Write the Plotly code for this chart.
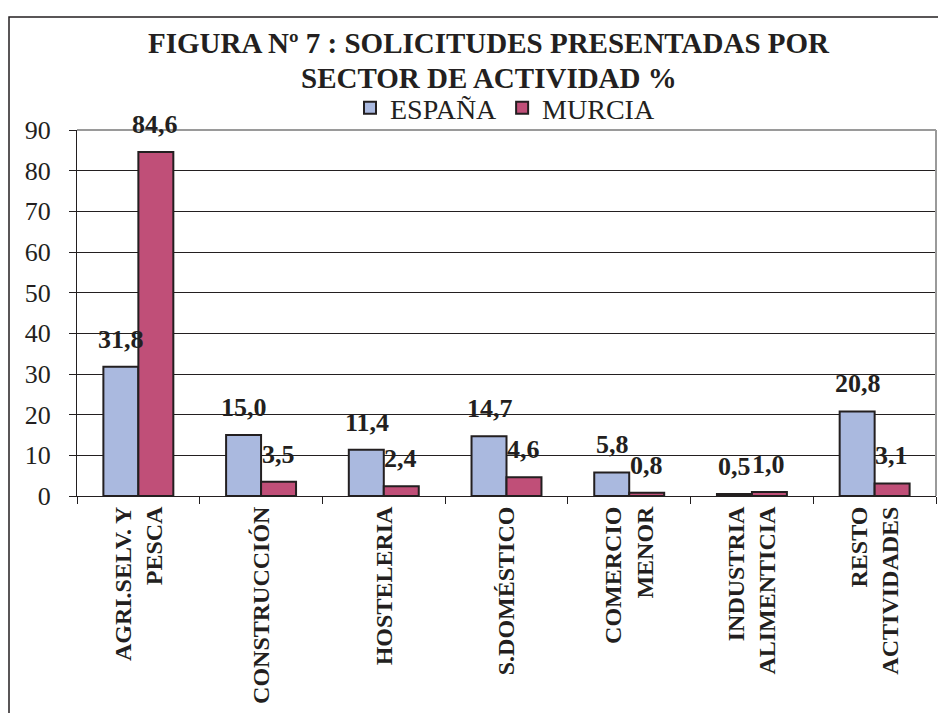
import plotly.graph_objects as go

categories = ["AGRI.SELV. Y<br>PESCA", "CONSTRUCCIÓN", "HOSTELERIA", "S.DOMÉSTICO",
              "COMERCIO<br>MENOR", "INDUSTRIA<br>ALIMENTICIA", "RESTO<br>ACTIVIDADES"]
espana = [31.8, 15.0, 11.4, 14.7, 5.8, 0.5, 20.8]
murcia = [84.6, 3.5, 2.4, 4.6, 0.8, 1.0, 3.1]
y_ticks = [0, 10, 20, 30, 40, 50, 60, 70, 80, 90]
title_lines = ["FIGURA Nº 7 : SOLICITUDES PRESENTADAS POR", "SECTOR DE ACTIVIDAD %"]

FONT = "Liberation Serif, Times New Roman, serif"
W, H = 946, 713
OFF = 8  # page body margin
L, T = 77 - OFF, 130 - OFF
pw, ph = 859, 366
R = W - L - pw
B = H - T - ph

fig = go.Figure()
fig.add_trace(go.Bar(name="ESPAÑA", x=categories, y=espana,
                     marker=dict(color="#AAB9DF", line=dict(color="#231F20", width=2))))
fig.add_trace(go.Bar(name="MURCIA", x=categories, y=murcia,
                     marker=dict(color="#C04F78", line=dict(color="#231F20", width=2))))

def fmt(v):
    return f"{v:.1f}".replace(".", ",")

def px_x(p):
    return (p - OFF - L) / pw

def px_y(p):
    return 1 - (p - OFF - T) / ph

annotations = []
for series, shift in ((espana, -17), (murcia, 17)):
    for c, v in zip(categories, series):
        annotations.append(dict(x=c, y=v, xref="x", yref="y", text="<b>" + fmt(v) + "</b>",
                                showarrow=False, xshift=shift, yshift=11, yanchor="bottom",
                                font=dict(family=FONT, size=26, color="#231F20")))

for line, ypix in zip(title_lines, (43, 78)):
    annotations.append(dict(x=px_x(489), y=px_y(ypix), xref="paper", yref="paper",
                            text="<b>" + line + "</b>", showarrow=False,
                            xanchor="center", yanchor="middle",
                            font=dict(family=FONT, size=29, color="#231F20")))

shapes = [dict(type="rect", xref="paper", yref="paper",
               x0=px_x(9), x1=px_x(960), y0=px_y(730), y1=px_y(17),
               line=dict(color="#231F20", width=1.5), fillcolor="rgba(0,0,0,0)", layer="below"),
          dict(type="line", xref="paper", yref="paper", x0=0, x1=1, y0=1, y1=1,
               line=dict(color="#9A9A9A", width=2)),
          dict(type="line", xref="paper", yref="paper", x0=1, x1=1, y0=0, y1=1,
               line=dict(color="#9A9A9A", width=2))]

fig.update_layout(
    width=W, height=H,
    margin=dict(l=L, r=R, t=T, b=B),
    paper_bgcolor="white", plot_bgcolor="white",
    barmode="group", bargap=0.43, bargroupgap=0,
    font=dict(family=FONT, color="#231F20"),
    legend=dict(orientation="h", x=px_x(505), xanchor="center",
                y=px_y(108), yanchor="middle",
                font=dict(family=FONT, size=28, color="#231F20"),
                itemwidth=30, tracegroupgap=0, bgcolor="rgba(0,0,0,0)"),
    xaxis=dict(tickangle=-90, tickson="boundaries", ticks="outside", ticklen=7,
               tickcolor="#231F20", tickwidth=1,
               showline=True, linecolor="#231F20", linewidth=1,
               tickfont=dict(family=FONT, size=24, color="#231F20"),
               tickprefix="<b>", ticksuffix="</b>"),
    yaxis=dict(range=[0, 90], tickvals=y_ticks, ticks="outside", ticklen=7,
               tickcolor="#231F20", showline=True, linecolor="#231F20", linewidth=1,
               showgrid=True, gridcolor="#231F20", gridwidth=1, zeroline=False,
               ticklabelstandoff=13,
               tickfont=dict(family=FONT, size=26, color="#231F20")),
    annotations=annotations,
    shapes=shapes,
)

fig.write_html("out.html")
